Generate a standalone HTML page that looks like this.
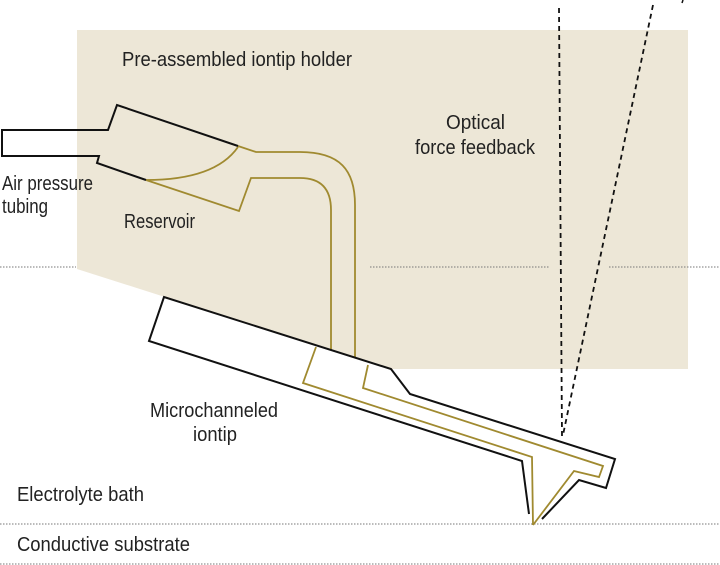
<!DOCTYPE html>
<html><head><meta charset="utf-8"><style>
html,body{margin:0;padding:0;background:#fff;}
svg{display:block;}
text{font-family:"Liberation Sans",Arial,sans-serif;fill:#222;font-size:20px;}
</style></head><body>
<svg width="720" height="565" viewBox="0 0 720 565" xmlns="http://www.w3.org/2000/svg">
<rect width="720" height="565" fill="#fff"/>
<polygon points="77,30 688,30 688,369 391,369 77,269" fill="#EDE7D7"/>
<polygon points="164,297 391,369 410,394 615,459 606,488 579,480 542,519 533,526 529,514 522,461 149,341" fill="#fff"/>
<g fill="none" stroke="#777" stroke-width="1" stroke-dasharray="1.5 1.5">
<line x1="0" y1="267" x2="76" y2="267"/>
<line x1="370" y1="267" x2="550" y2="267"/>
<line x1="609" y1="267" x2="720" y2="267"/>
<line x1="0" y1="524" x2="720" y2="524"/>
<line x1="0" y1="564" x2="720" y2="564"/>
</g>
<g fill="none" stroke="#111" stroke-width="1.8" stroke-dasharray="5 4">
<line x1="559" y1="8" x2="562" y2="437"/>
<line x1="653" y1="5" x2="563" y2="435"/>
</g>
<line x1="683" y1="0" x2="682" y2="3" stroke="#111" stroke-width="1.5"/>
<g fill="none" stroke="#A08A30" stroke-width="1.8" stroke-linejoin="miter">
<path d="M331,350 L331,210 C331,190 322,178 300,178 L251,178 L239,211 L146,180"/>
<path d="M355,357 L355,205 C355,170 340,152 300,152 L256,152 L238,146"/>
<path d="M238,147 Q215,180 146,180"/>
<path d="M316,347 L303,383 L532,457 L533,525"/>
<path d="M368,365 L363,388 L603,466 L599,477 L574,471 L533,525"/>
</g>
<g fill="none" stroke="#111" stroke-width="2" stroke-linejoin="miter">
<path d="M238,146 L117,105 L108,130 L2,130 L2,156 L99,156 L97,163 L146,180"/>
<path d="M529,514 L522,461 L149,341 L164,297 L391,369 L410,394 L615,459 L606,488 L579,480 L542,519"/>
</g>
<text x="122" y="66" textLength="230" lengthAdjust="spacingAndGlyphs">Pre-assembled iontip holder</text>
<text x="446" y="129" textLength="59" lengthAdjust="spacingAndGlyphs">Optical</text>
<text x="415" y="154" textLength="120" lengthAdjust="spacingAndGlyphs">force feedback</text>
<text x="2" y="190" textLength="91" lengthAdjust="spacingAndGlyphs">Air pressure</text>
<text x="2" y="213" textLength="46" lengthAdjust="spacingAndGlyphs">tubing</text>
<text x="124" y="228" textLength="71" lengthAdjust="spacingAndGlyphs">Reservoir</text>
<text x="150" y="417" textLength="128" lengthAdjust="spacingAndGlyphs">Microchanneled</text>
<text x="193" y="441" textLength="44" lengthAdjust="spacingAndGlyphs">iontip</text>
<text x="17" y="501" textLength="127" lengthAdjust="spacingAndGlyphs">Electrolyte bath</text>
<text x="17" y="551" textLength="173" lengthAdjust="spacingAndGlyphs">Conductive substrate</text>
</svg>
</body></html>
